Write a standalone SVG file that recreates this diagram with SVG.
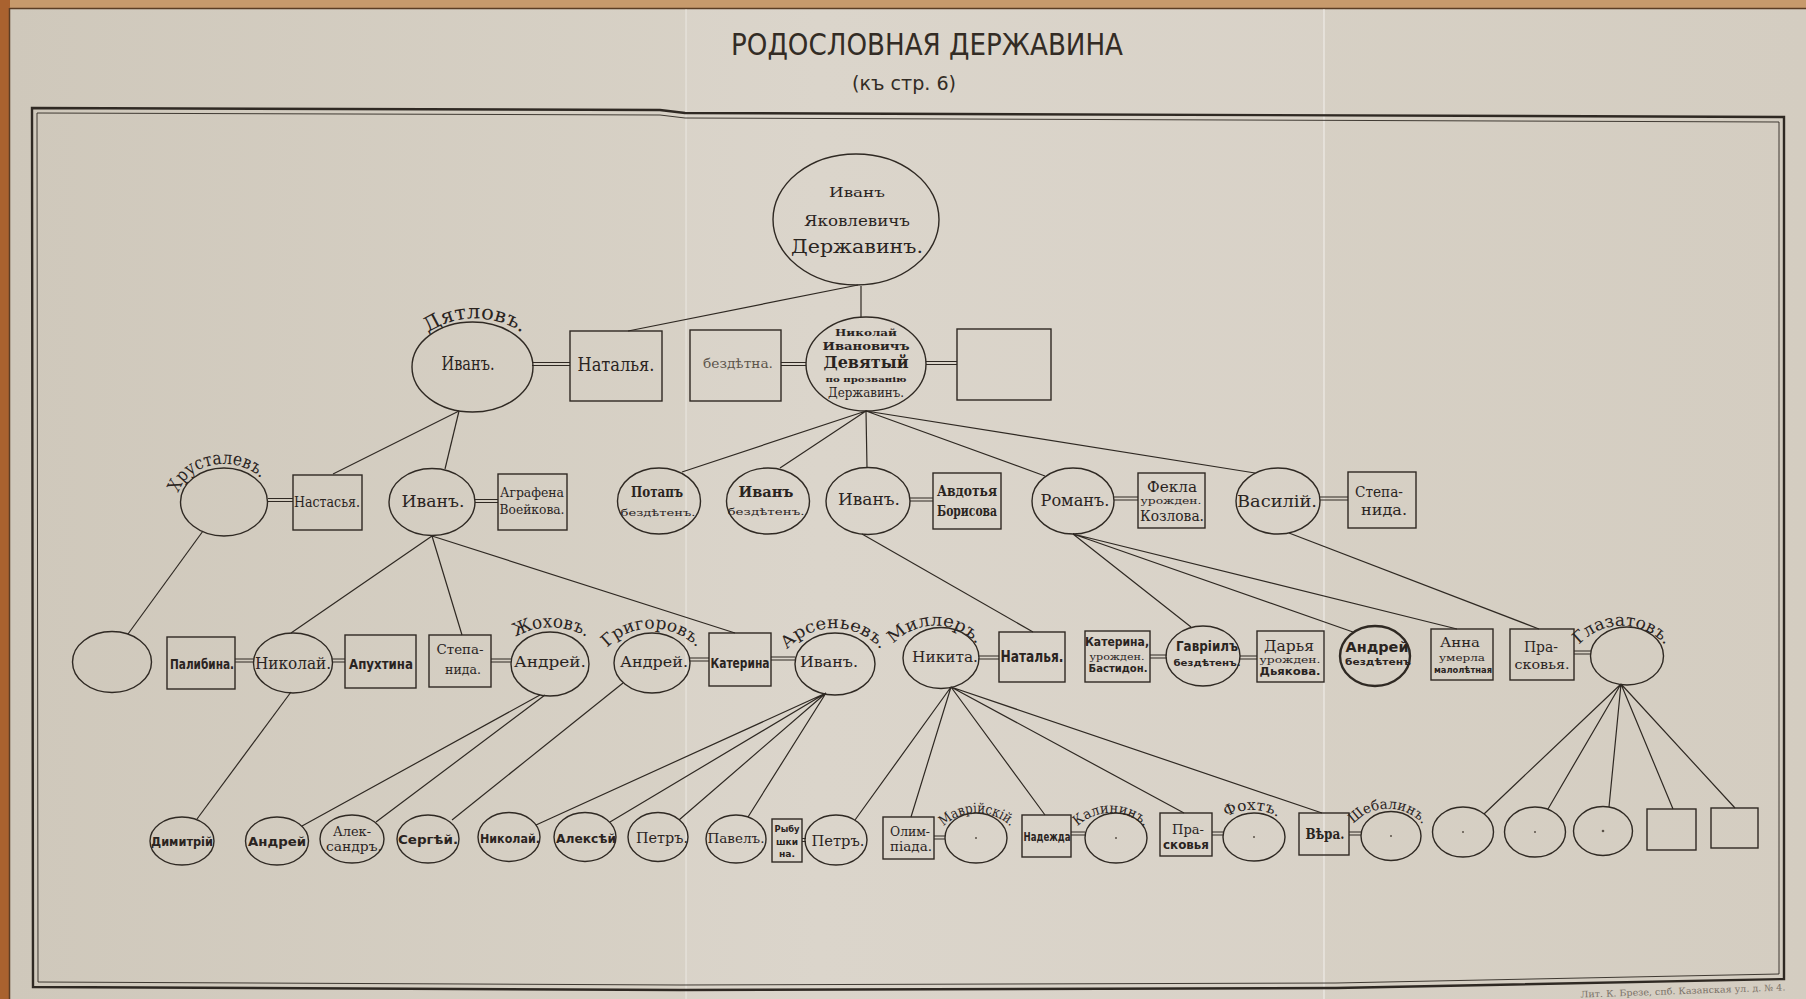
<svg xmlns="http://www.w3.org/2000/svg" width="1806" height="999" viewBox="0 0 1806 999">
<defs>
<style>
.ln{stroke:#2f2923;stroke-width:1.2;fill:none}
.mar{stroke:#2f2923;stroke-width:1.1;fill:none}
.nd{fill:none;stroke:#2f2923;stroke-width:1.4}
.nk{fill:none;stroke:#2f2923;stroke-width:2.4}
.s{font-family:"DejaVu Serif Condensed","DejaVu Serif","Liberation Serif",serif;fill:#2a241f;text-anchor:middle}
.sb{font-family:"DejaVu Serif Condensed","DejaVu Serif","Liberation Serif",serif;font-weight:bold;fill:#2a241f;text-anchor:middle}
.c{font-family:"DejaVu Sans Condensed","DejaVu Sans","Liberation Sans",sans-serif;font-weight:bold;fill:#2a241f;text-anchor:middle}
.arc{font-family:"DejaVu Serif Condensed","DejaVu Serif","Liberation Serif",serif;fill:#2a241f;text-anchor:middle}
.dot{fill:#5a5249}
</style>
<linearGradient id="paper" x1="0" y1="0" x2="1" y2="0">
<stop offset="0" stop-color="#cfc8bb"/>
<stop offset="0.45" stop-color="#d9d3c8"/>
<stop offset="1" stop-color="#d4cdc1"/>
</linearGradient>
<path id="aDy" d="M 426 334 A 85 85 0 0 1 524 334"/>
<path id="aXr" d="M 177.7 495.4 A 47 38 0 0 1 262.5 480.2"/>
<path id="aZh" d="M 514 638 A 70 70 0 0 1 588 638"/>
<path id="aGr" d="M 605 650 A 62 62 0 0 1 699 650"/>
<path id="aAr" d="M 786 651 A 62 62 0 0 1 882 651"/>
<path id="aMi" d="M 891 647 A 56 56 0 0 1 979 647"/>
<path id="aGl" d="M 1578 646 A 58 58 0 0 1 1666 646"/>
<path id="aMa" d="M 943 827 A 48 48 0 0 1 1011 827"/>
<path id="aKa" d="M 1077 827 A 48 48 0 0 1 1145 827"/>
<path id="aFo" d="M 1222 820 A 50 50 0 0 1 1282 820"/>
<path id="aSh" d="M 1352 826 A 46 46 0 0 1 1424 826"/>
</defs>

<!-- background / paper -->
<rect width="1806" height="999" fill="#c79a6c"/>
<rect x="0" y="0" width="10" height="999" fill="#a9622f"/>
<rect x="10" y="8" width="1796" height="991" fill="url(#paper)"/>
<line x1="10" y1="8.5" x2="1806" y2="8.5" stroke="#5b3d24" stroke-width="1.5"/>
<line x1="9.5" y1="8" x2="9.5" y2="999" stroke="#5b3d24" stroke-width="1.5"/>
<rect x="686" y="9" width="638" height="990" fill="#ffffff" opacity="0.06"/>
<line x1="686" y1="9" x2="686" y2="999" stroke="#ffffff" stroke-width="2" opacity="0.25"/>
<line x1="1324" y1="9" x2="1324" y2="999" stroke="#ffffff" stroke-width="2" opacity="0.35"/>

<!-- frame -->
<polygon points="32,108 660,110 685,113 1784,117 1784,979 1336,988 680,990 33,987" fill="none" stroke="#2f2923" stroke-width="2.4"/>
<polygon points="37,113 660,115 685,118 1779,122 1779,974 1336,983 680,985 38,982" fill="none" stroke="#2f2923" stroke-width="0.9"/>

<!-- title -->
<text id="title" x="927" y="55" font-family="'DejaVu Sans Condensed','DejaVu Sans','Liberation Sans',sans-serif" font-size="31" fill="#332c25" text-anchor="middle" textLength="392" lengthAdjust="spacingAndGlyphs">РОДОСЛОВНАЯ ДЕРЖАВИНА</text>
<text id="subtitle" x="904" y="90" font-family="'DejaVu Sans Condensed','DejaVu Sans','Liberation Sans',sans-serif" font-size="20" fill="#332c25" text-anchor="middle" textLength="104" lengthAdjust="spacingAndGlyphs">(къ стр. 6)</text>

<!-- connectors -->
<g id="connectors">
<path class="ln" d="M858 285 L628 331"/>
<path class="ln" d="M861 286 L861 317"/>
<path class="ln" d="M459 411 L333 474"/>
<path class="ln" d="M459 411 L445 469"/>
<path class="ln" d="M866 411 L682 472 M866 411 L780 468 M866 411 L867 468 M866 411 L1045 476 M866 411 L1255 473"/>
<path class="ln" d="M203 531 L128 634"/>
<path class="ln" d="M432 536 L291 633 M432 536 L462 635 M432 536 L735 633"/>
<path class="ln" d="M862 534 L1033 632"/>
<path class="ln" d="M1073 534 L1191 627 M1073 534 L1353 632 M1073 534 L1457 629"/>
<path class="ln" d="M1289 533 L1539 629"/>
<path class="ln" d="M291 692 L197 819"/>
<path class="ln" d="M540 695 L302 826 M545 695 L376 822"/>
<path class="ln" d="M623 683 L452 820"/>
<path class="ln" d="M826 693 L536 825 M826 693 L610 822 M826 693 L679 820 M826 693 L748 817"/>
<path class="ln" d="M951 687 L855 820 M951 687 L911 817 M951 687 L1045 815 M951 687 L1184 813 M951 687 L1322 813"/>
<path class="ln" d="M1621 684 L1484 814 M1621 684 L1548 809 M1621 684 L1609 807 M1621 684 L1673 809 M1621 684 L1735 808"/>
<!-- marriage double lines -->
<path class="mar" d="M532 362.5 H570 M532 365.5 H570"/>
<path class="mar" d="M781 362.5 H806 M781 365.5 H806"/>
<path class="mar" d="M926 361.5 H957 M926 364.5 H957"/>
<path class="mar" d="M268 498.5 H293 M268 501.5 H293"/>
<path class="mar" d="M475 499.5 H498 M475 502.5 H498"/>
<path class="mar" d="M910 498 H933 M910 501 H933"/>
<path class="mar" d="M1114 497 H1138 M1114 500 H1138"/>
<path class="mar" d="M1320 497 H1348 M1320 500 H1348"/>
<path class="mar" d="M235 659 H254 M235 662 H254"/>
<path class="mar" d="M332 659 H345 M332 662 H345"/>
<path class="mar" d="M491 659 H511 M491 662 H511"/>
<path class="mar" d="M690 658 H709 M690 661 H709"/>
<path class="mar" d="M771 657 H795 M771 660 H795"/>
<path class="mar" d="M978 656 H999 M978 659 H999"/>
<path class="mar" d="M1150 655 H1167 M1150 658 H1167"/>
<path class="mar" d="M1240 656 H1257 M1240 659 H1257"/>
<path class="mar" d="M1574 651 H1591 M1574 654 H1591"/>
<path class="mar" d="M802 838.5 H806 M802 841.5 H806"/>
<path class="mar" d="M934 836 H945 M934 839 H945"/>
<path class="mar" d="M1071 832 H1085 M1071 835 H1085"/>
<path class="mar" d="M1212 832 H1223 M1212 835 H1223"/>
<path class="mar" d="M1349 832 H1361 M1349 835 H1361"/>
</g>

<!-- generation 0 -->
<g id="n-ivan-yak">
<ellipse class="nd" cx="856" cy="219.5" rx="83" ry="65.5"/>
<text class="s" x="857" y="197" font-size="13" textLength="56" lengthAdjust="spacingAndGlyphs">Иванъ</text>
<text class="s" x="857" y="226" font-size="14" textLength="106" lengthAdjust="spacingAndGlyphs">Яковлевичъ</text>
<text class="s" x="857" y="253" font-size="18" textLength="132" lengthAdjust="spacingAndGlyphs">Державинъ.</text>
</g>

<!-- generation 1 -->
<g id="n-dyatlov-ivan">
<ellipse class="nd" cx="472.5" cy="367" rx="60.5" ry="45"/>
<text class="arc" font-size="20"><textPath href="#aDy" startOffset="50%" textLength="100" lengthAdjust="spacingAndGlyphs">Дятловъ.</textPath></text>
<text class="s" x="468" y="370" font-size="18" textLength="53" lengthAdjust="spacingAndGlyphs">Иванъ.</text>
</g>
<g id="n-natalya1">
<rect class="nd" x="570" y="331" width="92" height="70"/>
<text class="s" x="616" y="371" font-size="18" textLength="77" lengthAdjust="spacingAndGlyphs">Наталья.</text>
</g>
<g id="n-bezdetna">
<rect class="nd" x="690" y="330" width="91" height="71"/>
<text class="s" x="738" y="368" font-size="12" style="fill:#5d554c" textLength="70" lengthAdjust="spacingAndGlyphs">бездѣтна.</text>
</g>
<g id="n-nikolai-dev">
<ellipse class="nd" cx="866" cy="364" rx="60" ry="47"/>
<text class="sb" x="866" y="336" font-size="10" textLength="62" lengthAdjust="spacingAndGlyphs">Николай</text>
<text class="sb" x="866" y="350" font-size="11" textLength="87" lengthAdjust="spacingAndGlyphs">Ивановичъ</text>
<text class="sb" x="866" y="368" font-size="16" textLength="85" lengthAdjust="spacingAndGlyphs">Девятый</text>
<text class="sb" x="866" y="382" font-size="8" textLength="81" lengthAdjust="spacingAndGlyphs">по прозванію</text>
<text class="s" x="866" y="397" font-size="13" textLength="76" lengthAdjust="spacingAndGlyphs">Державинъ.</text>
</g>
<g id="n-empty-wife">
<rect class="nd" x="957" y="329" width="94" height="71"/>
</g>

<!-- generation 2 -->
<g id="n-khrustalev">
<ellipse class="nd" cx="224" cy="502" rx="43.5" ry="34"/>
<text class="arc" font-size="18"><textPath href="#aXr" startOffset="50%" textLength="98" lengthAdjust="spacingAndGlyphs">Хрусталевъ.</textPath></text>
</g>
<g id="n-nastasya">
<rect class="nd" x="293" y="475" width="69" height="55"/>
<text class="s" x="327" y="507" font-size="15" textLength="66" lengthAdjust="spacingAndGlyphs">Настасья.</text>
</g>
<g id="n-ivan2">
<ellipse class="nd" cx="432" cy="502" rx="43" ry="33.5"/>
<text class="s" x="433" y="507" font-size="16" textLength="63" lengthAdjust="spacingAndGlyphs">Иванъ.</text>
</g>
<g id="n-agrafena">
<rect class="nd" x="498" y="474" width="69" height="56"/>
<text class="s" x="532" y="497" font-size="13" textLength="64" lengthAdjust="spacingAndGlyphs">Аграфена</text>
<text class="s" x="532" y="514" font-size="13" textLength="65" lengthAdjust="spacingAndGlyphs">Воейкова.</text>
</g>
<g id="n-potap">
<ellipse class="nd" cx="659" cy="501" rx="41.5" ry="33"/>
<text class="sb" x="657" y="497" font-size="14" textLength="52" lengthAdjust="spacingAndGlyphs">Потапъ</text>
<text class="s" x="658" y="516" font-size="9" textLength="75" lengthAdjust="spacingAndGlyphs">бездѣтенъ.</text>
</g>
<g id="n-ivan-bezdeten">
<ellipse class="nd" cx="768" cy="501" rx="41.5" ry="33"/>
<text class="sb" x="766" y="497" font-size="14" textLength="55" lengthAdjust="spacingAndGlyphs">Иванъ</text>
<text class="s" x="766" y="515" font-size="9" textLength="77" lengthAdjust="spacingAndGlyphs">бездѣтенъ.</text>
</g>
<g id="n-ivan3">
<ellipse class="nd" cx="868" cy="501" rx="42" ry="33.5"/>
<text class="s" x="869" y="505" font-size="16" textLength="62" lengthAdjust="spacingAndGlyphs">Иванъ.</text>
</g>
<g id="n-avdotya">
<rect class="nd" x="933" y="473" width="68" height="56"/>
<text class="sb" x="967" y="496" font-size="14" textLength="60" lengthAdjust="spacingAndGlyphs">Авдотья</text>
<text class="sb" x="967" y="516" font-size="14" textLength="60" lengthAdjust="spacingAndGlyphs">Борисова</text>
</g>
<g id="n-roman">
<ellipse class="nd" cx="1073" cy="501" rx="41" ry="33"/>
<text class="s" x="1075" y="506" font-size="16" textLength="69" lengthAdjust="spacingAndGlyphs">Романъ.</text>
</g>
<g id="n-fekla">
<rect class="nd" x="1138" y="473" width="67" height="55"/>
<text class="s" x="1172" y="492" font-size="14" textLength="50" lengthAdjust="spacingAndGlyphs">Фекла</text>
<text class="s" x="1171" y="504" font-size="9" textLength="61" lengthAdjust="spacingAndGlyphs">урожден.</text>
<text class="s" x="1172" y="521" font-size="14" textLength="64" lengthAdjust="spacingAndGlyphs">Козлова.</text>
</g>
<g id="n-vasiliy">
<ellipse class="nd" cx="1278" cy="501" rx="42" ry="33"/>
<text class="s" x="1277" y="507" font-size="16" textLength="80" lengthAdjust="spacingAndGlyphs">Василій.</text>
</g>
<g id="n-stepanida1">
<rect class="nd" x="1348" y="472" width="68" height="56"/>
<text class="s" x="1379" y="497" font-size="14" textLength="48" lengthAdjust="spacingAndGlyphs">Степа-</text>
<text class="s" x="1384" y="515" font-size="14" textLength="46" lengthAdjust="spacingAndGlyphs">нида.</text>
</g>

<!-- generation 3 -->
<g id="n-khr-child">
<ellipse class="nd" cx="112" cy="662" rx="39.5" ry="30.5"/>
</g>
<g id="n-palibina">
<rect class="nd" x="167" y="637" width="68" height="52"/>
<text class="c" x="202" y="669" font-size="14" textLength="64" lengthAdjust="spacingAndGlyphs">Палибина.</text>
</g>
<g id="n-nikolai3">
<ellipse class="nd" cx="293" cy="663" rx="39.5" ry="30"/>
<text class="s" x="293" y="669" font-size="16" textLength="76" lengthAdjust="spacingAndGlyphs">Николай.</text>
</g>
<g id="n-apukhtina">
<rect class="nd" x="345" y="635" width="71" height="53"/>
<text class="c" x="381" y="669" font-size="14" textLength="64" lengthAdjust="spacingAndGlyphs">Апухтина</text>
</g>
<g id="n-stepanida2">
<rect class="nd" x="429" y="635" width="62" height="52"/>
<text class="s" x="460" y="654" font-size="13" textLength="47" lengthAdjust="spacingAndGlyphs">Степа-</text>
<text class="s" x="463" y="674" font-size="13" textLength="36" lengthAdjust="spacingAndGlyphs">нида.</text>
</g>
<g id="n-andrey-zhokhov">
<ellipse class="nd" cx="550" cy="664" rx="39" ry="32"/>
<text class="arc" font-size="18"><textPath href="#aZh" startOffset="50%" textLength="74" lengthAdjust="spacingAndGlyphs">Жоховъ.</textPath></text>
<text class="s" x="550" y="667" font-size="15" textLength="72" lengthAdjust="spacingAndGlyphs">Андрей.</text>
</g>
<g id="n-andrey-grigorov">
<ellipse class="nd" cx="652" cy="663" rx="38" ry="30"/>
<text class="arc" font-size="17"><textPath href="#aGr" startOffset="50%" textLength="100" lengthAdjust="spacingAndGlyphs">Григоровъ.</textPath></text>
<text class="s" x="654" y="667" font-size="15" textLength="68" lengthAdjust="spacingAndGlyphs">Андрей.</text>
</g>
<g id="n-katerina">
<rect class="nd" x="709" y="633" width="62" height="53"/>
<text class="c" x="740" y="668" font-size="14" textLength="59" lengthAdjust="spacingAndGlyphs">Катерина</text>
</g>
<g id="n-ivan-arsenyev">
<ellipse class="nd" cx="835" cy="664" rx="40" ry="31"/>
<text class="arc" font-size="17"><textPath href="#aAr" startOffset="50%" textLength="106" lengthAdjust="spacingAndGlyphs">Арсеньевъ.</textPath></text>
<text class="s" x="829" y="667" font-size="15" textLength="58" lengthAdjust="spacingAndGlyphs">Иванъ.</text>
</g>
<g id="n-nikita-miller">
<ellipse class="nd" cx="941" cy="658" rx="38" ry="30.5"/>
<text class="arc" font-size="17"><textPath href="#aMi" startOffset="50%" textLength="94" lengthAdjust="spacingAndGlyphs">Миллеръ.</textPath></text>
<text class="s" x="945" y="662" font-size="15" textLength="66" lengthAdjust="spacingAndGlyphs">Никита.</text>
</g>
<g id="n-natalya2">
<rect class="nd" x="999" y="632" width="66" height="50"/>
<text class="c" x="1032" y="662" font-size="15" textLength="63" lengthAdjust="spacingAndGlyphs">Наталья.</text>
</g>
<g id="n-katerina-bastidon">
<rect class="nd" x="1085" y="631" width="65" height="51"/>
<text class="c" x="1117" y="646" font-size="13" textLength="64" lengthAdjust="spacingAndGlyphs">Катерина,</text>
<text class="s" x="1117" y="660" font-size="9" textLength="55" lengthAdjust="spacingAndGlyphs">урожден.</text>
<text class="c" x="1118" y="672" font-size="10" textLength="59" lengthAdjust="spacingAndGlyphs">Бастидон.</text>
</g>
<g id="n-gavriil">
<ellipse class="nd" cx="1203" cy="656" rx="37" ry="30"/>
<text class="c" x="1207" y="651" font-size="14" textLength="62" lengthAdjust="spacingAndGlyphs">Гавріилъ</text>
<text class="c" x="1207" y="666" font-size="9" textLength="67" lengthAdjust="spacingAndGlyphs">бездѣтенъ.</text>
</g>
<g id="n-darya">
<rect class="nd" x="1257" y="631" width="67" height="51"/>
<text class="s" x="1289" y="651" font-size="14" textLength="50" lengthAdjust="spacingAndGlyphs">Дарья</text>
<text class="s" x="1290" y="663" font-size="9" textLength="61" lengthAdjust="spacingAndGlyphs">урожден.</text>
<text class="c" x="1290" y="675" font-size="10" textLength="61" lengthAdjust="spacingAndGlyphs">Дьякова.</text>
</g>
<g id="n-andrey-bezdeten">
<ellipse class="nk" cx="1375" cy="656" rx="35" ry="30"/>
<text class="c" x="1377" y="652" font-size="14" textLength="63" lengthAdjust="spacingAndGlyphs">Андрей</text>
<text class="c" x="1378" y="665" font-size="9" textLength="66" lengthAdjust="spacingAndGlyphs">бездѣтенъ</text>
</g>
<g id="n-anna">
<rect class="nd" x="1431" y="629" width="62" height="51"/>
<text class="s" x="1460" y="647" font-size="12" textLength="40" lengthAdjust="spacingAndGlyphs">Анна</text>
<text class="s" x="1462" y="661" font-size="9" textLength="46" lengthAdjust="spacingAndGlyphs">умерла</text>
<text class="c" x="1463" y="673" font-size="8" textLength="58" lengthAdjust="spacingAndGlyphs">малолѣтная</text>
</g>
<g id="n-praskovya1">
<rect class="nd" x="1510" y="629" width="64" height="51"/>
<text class="s" x="1541" y="652" font-size="15" textLength="34" lengthAdjust="spacingAndGlyphs">Пра-</text>
<text class="s" x="1542" y="669" font-size="13" textLength="55" lengthAdjust="spacingAndGlyphs">сковья.</text>
</g>
<g id="n-glazatov">
<ellipse class="nd" cx="1627" cy="656" rx="36.5" ry="29"/>
<text class="arc" font-size="17"><textPath href="#aGl" startOffset="50%" textLength="97" lengthAdjust="spacingAndGlyphs">Глазатовъ.</textPath></text>
</g>

<!-- generation 4 -->
<g id="n-dimitriy">
<ellipse class="nd" cx="182" cy="841" rx="32" ry="24"/>
<text class="c" x="182" y="846" font-size="12" textLength="62" lengthAdjust="spacingAndGlyphs">Димитрій</text>
</g>
<g id="n-andrey4">
<ellipse class="nd" cx="277" cy="841" rx="31.5" ry="24"/>
<text class="c" x="277" y="846" font-size="13" textLength="58" lengthAdjust="spacingAndGlyphs">Андрей</text>
</g>
<g id="n-aleksandr">
<ellipse class="nd" cx="352" cy="839" rx="32" ry="24"/>
<text class="s" x="352" y="836" font-size="13" textLength="38" lengthAdjust="spacingAndGlyphs">Алек-</text>
<text class="s" x="354" y="851" font-size="12" textLength="56" lengthAdjust="spacingAndGlyphs">сандръ.</text>
</g>
<g id="n-sergey">
<ellipse class="nd" cx="428" cy="839" rx="31" ry="24"/>
<text class="c" x="428" y="844" font-size="13" textLength="60" lengthAdjust="spacingAndGlyphs">Сергѣй.</text>
</g>
<g id="n-nikolai4">
<ellipse class="nd" cx="509" cy="837" rx="31" ry="24.5"/>
<text class="c" x="510" y="843" font-size="13" textLength="60" lengthAdjust="spacingAndGlyphs">Николай.</text>
</g>
<g id="n-aleksey">
<ellipse class="nd" cx="585" cy="837" rx="31" ry="24.5"/>
<text class="c" x="586" y="843" font-size="13" textLength="60" lengthAdjust="spacingAndGlyphs">Алексѣй</text>
</g>
<g id="n-petr1">
<ellipse class="nd" cx="658" cy="837" rx="30" ry="24.5"/>
<text class="s" x="662" y="843" font-size="14" textLength="52" lengthAdjust="spacingAndGlyphs">Петръ.</text>
</g>
<g id="n-pavel">
<ellipse class="nd" cx="736" cy="839" rx="30" ry="24"/>
<text class="s" x="736" y="843" font-size="13" textLength="57" lengthAdjust="spacingAndGlyphs">Павелъ.</text>
</g>
<g id="n-rybushkina">
<rect class="nd" x="772" y="819" width="30" height="43"/>
<text class="c" x="787" y="832" font-size="8" textLength="25" lengthAdjust="spacingAndGlyphs">Рыбу</text>
<text class="c" x="787" y="845" font-size="8" textLength="22" lengthAdjust="spacingAndGlyphs">шки</text>
<text class="c" x="787" y="857" font-size="8" textLength="16" lengthAdjust="spacingAndGlyphs">на.</text>
</g>
<g id="n-petr2">
<ellipse class="nd" cx="836" cy="840" rx="31" ry="25"/>
<text class="s" x="838" y="846" font-size="14" textLength="53" lengthAdjust="spacingAndGlyphs">Петръ.</text>
</g>
<g id="n-olimpiada">
<rect class="nd" x="883" y="817" width="51" height="42"/>
<text class="s" x="910" y="836" font-size="12" textLength="40" lengthAdjust="spacingAndGlyphs">Олим-</text>
<text class="s" x="911" y="851" font-size="12" textLength="42" lengthAdjust="spacingAndGlyphs">піада.</text>
</g>
<g id="n-mavriyskiy">
<ellipse class="nd" cx="976" cy="838" rx="31" ry="25"/>
<circle class="dot" cx="976" cy="838" r="1"/>
<text class="arc" font-size="14"><textPath href="#aMa" startOffset="50%" textLength="74" lengthAdjust="spacingAndGlyphs">Маврійскій.</textPath></text>
</g>
<g id="n-nadezhda">
<rect class="nd" x="1022" y="815" width="49" height="42"/>
<text class="c" x="1047" y="841" font-size="12" textLength="47" lengthAdjust="spacingAndGlyphs">Надежда</text>
</g>
<g id="n-kalinin">
<ellipse class="nd" cx="1116" cy="838" rx="31" ry="25"/>
<circle class="dot" cx="1116" cy="838" r="1"/>
<text class="arc" font-size="14"><textPath href="#aKa" startOffset="50%" textLength="74" lengthAdjust="spacingAndGlyphs">Калининъ.</textPath></text>
</g>
<g id="n-praskovya2">
<rect class="nd" x="1160" y="813" width="52" height="43"/>
<text class="s" x="1188" y="834" font-size="13" textLength="32" lengthAdjust="spacingAndGlyphs">Пра-</text>
<text class="c" x="1186" y="849" font-size="12" textLength="46" lengthAdjust="spacingAndGlyphs">сковья</text>
</g>
<g id="n-fokht">
<ellipse class="nd" cx="1254" cy="837" rx="31" ry="24"/>
<circle class="dot" cx="1254" cy="837" r="1"/>
<text class="arc" font-size="15"><textPath href="#aFo" startOffset="50%" textLength="54" lengthAdjust="spacingAndGlyphs">Фохтъ.</textPath></text>
</g>
<g id="n-vera">
<rect class="nd" x="1299" y="813" width="50" height="42"/>
<text class="sb" x="1325" y="839" font-size="14" textLength="39" lengthAdjust="spacingAndGlyphs">Вѣра.</text>
</g>
<g id="n-shebalin">
<ellipse class="nd" cx="1391" cy="836" rx="30" ry="24.5"/>
<circle class="dot" cx="1391" cy="836" r="1"/>
<text class="arc" font-size="14"><textPath href="#aSh" startOffset="50%" textLength="78" lengthAdjust="spacingAndGlyphs">Шебалинъ.</textPath></text>
</g>
<g id="n-glaz-c1">
<ellipse class="nd" cx="1463" cy="832" rx="30.5" ry="25"/>
<circle class="dot" cx="1463" cy="832" r="1"/>
</g>
<g id="n-glaz-c2">
<ellipse class="nd" cx="1535" cy="832" rx="30.5" ry="25"/>
<circle class="dot" cx="1535" cy="832" r="1"/>
</g>
<g id="n-glaz-c3">
<ellipse class="nd" cx="1603" cy="831" rx="29.5" ry="24.5"/>
<circle class="dot" cx="1603" cy="831" r="1.3"/>
</g>
<g id="n-glaz-b1">
<rect class="nd" x="1647" y="809" width="49" height="41"/>
</g>
<g id="n-glaz-b2">
<rect class="nd" x="1711" y="808" width="47" height="40"/>
</g>

<!-- imprint -->
<text x="1683" y="994" font-family="'DejaVu Serif Condensed','DejaVu Serif',serif" font-size="9" fill="#7a7167" text-anchor="middle" textLength="205" lengthAdjust="spacingAndGlyphs" transform="rotate(-2 1683 994)">Лит. К. Брезе, спб. Казанская ул. д. № 4.</text>
</svg>
